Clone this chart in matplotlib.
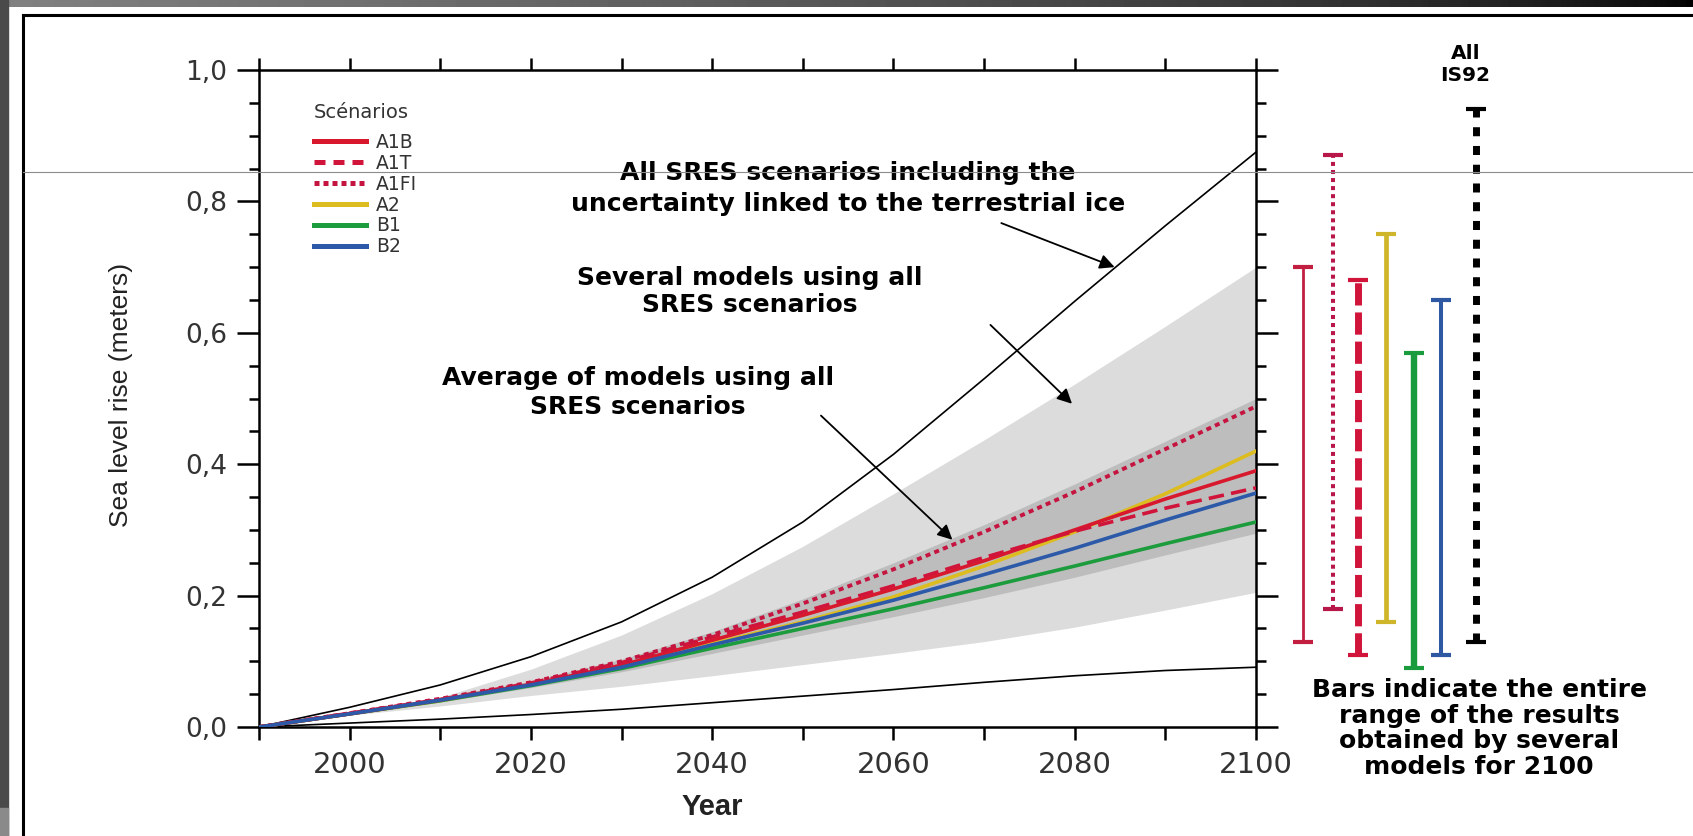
import numpy as np
import matplotlib
matplotlib.use("Agg")
import matplotlib.pyplot as plt
from matplotlib.patches import Rectangle
from matplotlib.lines import Line2D
from matplotlib.ticker import MultipleLocator, FuncFormatter

# data
years = [1990, 2000, 2010, 2020, 2030, 2040, 2050, 2060, 2070, 2080, 2090, 2100]

a1b  = [0, 0.020, 0.041, 0.065, 0.094, 0.132, 0.170, 0.210, 0.253, 0.300, 0.347, 0.390]
a1t  = [0, 0.021, 0.042, 0.067, 0.098, 0.137, 0.175, 0.215, 0.258, 0.298, 0.333, 0.364]
a1fi = [0, 0.021, 0.043, 0.068, 0.100, 0.140, 0.188, 0.240, 0.297, 0.358, 0.423, 0.488]
a2   = [0, 0.020, 0.040, 0.064, 0.092, 0.127, 0.160, 0.198, 0.245, 0.297, 0.355, 0.420]
b1   = [0, 0.020, 0.040, 0.063, 0.089, 0.120, 0.150, 0.180, 0.212, 0.245, 0.279, 0.312]
b2   = [0, 0.020, 0.041, 0.064, 0.091, 0.125, 0.158, 0.193, 0.232, 0.272, 0.315, 0.356]

# outer envelope (incl. land ice uncertainty)
env_hi = [0, 0.030, 0.064, 0.107, 0.160, 0.228, 0.312, 0.415, 0.530, 0.648, 0.763, 0.875]
env_lo = [0, 0.006, 0.012, 0.019, 0.027, 0.037, 0.047, 0.057, 0.068, 0.078, 0.086, 0.091]
# light shading: all models, all SRES
all_hi = [0, 0.020, 0.045, 0.088, 0.140, 0.203, 0.275, 0.355, 0.437, 0.522, 0.610, 0.700]
all_lo = [0, 0.018, 0.032, 0.048, 0.062, 0.078, 0.095, 0.112, 0.130, 0.152, 0.178, 0.205]
# dark shading: average of models
avg_hi = [0, 0.021, 0.044, 0.070, 0.103, 0.145, 0.195, 0.250, 0.308, 0.370, 0.435, 0.500]
avg_lo = [0, 0.019, 0.038, 0.060, 0.084, 0.112, 0.140, 0.168, 0.197, 0.228, 0.262, 0.295]

# range bars for 2100
bar_names = ["A1B", "A1FI", "A1T", "A2", "B1", "B2", "IS92"]
bar_lo = [0.13, 0.18, 0.11, 0.16, 0.09, 0.11, 0.13]
bar_hi = [0.70, 0.87, 0.68, 0.75, 0.57, 0.65, 0.94]

# styles
colors = {"A1B": "#d8182c", "A1T": "#d0143a", "A1FI": "#c4143f",
          "A2": "#dcbc1e", "B1": "#1c9c3c", "B2": "#2c5aa8", "IS92": "#000000"}
bar_colors = ["#c21f40", "#b8174a", "#d0143a", "#cfb52a", "#1a9c3e", "#2f58a2", "#000000"]
bar_x = [2105.2, 2108.5, 2111.3, 2114.3, 2117.4, 2120.4, 2124.3]
bar_lw = [2.0, 2.9, 5.0, 3.4, 4.6, 2.9, 5.0]
bar_ls = ["-", (0, (1, 1)), (0, (3.2, 1)), "-", "-", "-", (0, (1.3, 1.4))]

fig = plt.figure(figsize=(16.93, 8.36), dpi=100)

# screenshot frame
fig.patches.append(Rectangle((0, 0), 8 / 1693, 1, transform=fig.transFigure,
                             color="#4a4a4a", zorder=0))
fig.patches.append(Rectangle((0, 0), 8 / 1693, 28 / 836, transform=fig.transFigure,
                             color="#8a8a8a", zorder=0))
band = fig.add_axes([0, 1 - 7 / 836, 1, 7 / 836])
band.imshow(np.linspace(0.32, 0.0, 256)[None, :] ** 0.6, cmap="gray", vmin=0, vmax=1,
            aspect="auto")
band.axis("off")
fig.lines.append(Line2D([22.5 / 1693, 22.5 / 1693], [0, 1 - 15 / 836], transform=fig.transFigure,
                        color="black", lw=2.2))
fig.lines.append(Line2D([22.5 / 1693, 1], [1 - 15 / 836, 1 - 15 / 836], transform=fig.transFigure,
                        color="black", lw=2.2))
fig.lines.append(Line2D([22.5 / 1693, 1], [1 - 172 / 836, 1 - 172 / 836], transform=fig.transFigure,
                        color="#8c8c8c", lw=0.8, zorder=10))

ax = fig.add_axes([259 / 1693, 1 - 727 / 836, 997 / 1693, 657 / 836])

ax.fill_between(years, all_lo, all_hi, color="#dcdcdc", lw=0, zorder=1)
ax.fill_between(years, avg_lo, avg_hi, color="#bdbdbd", lw=0, zorder=1.5)
ax.plot(years, env_hi, color="black", lw=1.2, zorder=2)
ax.plot(years, env_lo, color="black", lw=1.2, zorder=2)

ax.plot(years, a2, color=colors["A2"], lw=2.6, zorder=3)
ax.plot(years, b1, color=colors["B1"], lw=2.6, zorder=3)
ax.plot(years, a1b, color=colors["A1B"], lw=2.6, zorder=3)
ax.plot(years, a1t, color=colors["A1T"], lw=2.6, ls=(0, (4.3, 2)), zorder=3)
ax.plot(years, a1fi, color=colors["A1FI"], lw=2.8, ls=(0, (1.3, 1.1)), zorder=3)
ax.plot(years, b2, color=colors["B2"], lw=2.6, zorder=3)

# range bars right of the axes
for c, x, lo, hi, lw, ls in zip(bar_colors, bar_x, bar_lo, bar_hi, bar_lw, bar_ls):
    eb = ax.errorbar([x], [(lo + hi) / 2], yerr=[[(hi - lo) / 2], [(hi - lo) / 2]],
                     fmt="none", ecolor=c, elinewidth=lw, capsize=7, capthick=3)
    eb[2][0].set_linestyle(ls)
    for art in list(eb[1]) + list(eb[2]):
        art.set_clip_on(False)

ax.set_xlim(1990, 2100)
ax.set_ylim(0, 1.0)

ax.xaxis.set_major_locator(MultipleLocator(20))
ax.xaxis.set_minor_locator(MultipleLocator(10))
ax.yaxis.set_major_locator(MultipleLocator(0.2))
ax.yaxis.set_minor_locator(MultipleLocator(0.05))
ax.yaxis.set_major_formatter(FuncFormatter(lambda v, p: f"{v:.1f}".replace(".", ",")))

ax.tick_params(axis="y", which="major", direction="out", length=16, width=1.8,
               labelsize=19, labelcolor="#333333", right=True, pad=7)
ax.tick_params(axis="y", which="minor", direction="out", length=7, width=1.8, right=True)
ax.tick_params(axis="x", which="both", direction="out", length=9, width=1.8,
               labelsize=21, labelcolor="#333333", top=True, pad=8)
for s in ax.spines.values():
    s.set_linewidth(1.8)

ax.set_ylabel("Sea level rise (meters)", fontsize=19, family="Liberation Sans", color="#222222")
ax.yaxis.set_label_coords(-0.126, 0.505)
ax.set_xlabel("Year", fontsize=21, family="Liberation Sans", fontweight="bold", color="#222222")
ax.xaxis.set_label_coords(0.455, -0.100)

# legend
handles = [
    Line2D([], [], color=colors["A1B"], lw=3.6),
    Line2D([], [], color=colors["A1T"], lw=3.6, ls=(0, (2.2, 1.6))),
    Line2D([], [], color=colors["A1FI"], lw=3.6, ls=(0, (1, 0.8))),
    Line2D([], [], color=colors["A2"], lw=3.6),
    Line2D([], [], color=colors["B1"], lw=3.6),
    Line2D([], [], color=colors["B2"], lw=3.6),
]
leg = ax.legend(handles, ["A1B", "A1T", "A1FI", "A2", "B1", "B2"], title="Scénarios",
                loc="upper left", bbox_to_anchor=(0.055, 0.950), frameon=False,
                fontsize=13.5, title_fontsize=14, alignment="left", handlelength=2.8,
                handletextpad=0.5, labelspacing=0.1, borderpad=0, borderaxespad=0)
leg._legend_box.sep = 8
for t in leg.get_texts():
    t.set_color("#333333")
leg.get_title().set_color("#333333")

# annotations
akw = dict(fontsize=18, fontweight="bold", ha="center", va="center", multialignment="center")
arw = dict(arrowstyle="-|>", color="black", lw=1.3, mutation_scale=22, shrinkA=0, shrinkB=0)
ax.text(2055.0, 0.820, "All SRES scenarios including the\nuncertainty linked to the terrestrial ice",
        linespacing=1.38, **akw)
ax.annotate("", xy=(2084.4, 0.700), xytext=(2071.9, 0.767), arrowprops=arw)
ax.text(2044.1, 0.663, "Several models using all\nSRES scenarios", linespacing=1.2, **akw)
ax.annotate("", xy=(2079.7, 0.492), xytext=(2070.7, 0.612), arrowprops=arw)
ax.text(2031.8, 0.509, "Average of models using all\nSRES scenarios", linespacing=1.22, **akw)
ax.annotate("", xy=(2066.5, 0.285), xytext=(2052.0, 0.474), arrowprops=arw)

ax.text(1.210, 1.008, "All\nIS92", transform=ax.transAxes, fontsize=14.5, fontweight="bold",
        ha="center", va="center", linespacing=1.2)
ax.text(1.2237, -0.002, "Bars indicate the entire\nrange of the results\nobtained by several\nmodels for 2100",
        transform=ax.transAxes, fontsize=18, fontweight="bold", ha="center", va="center",
        multialignment="center", linespacing=1.08)

fig.savefig("out.png", dpi=100)
